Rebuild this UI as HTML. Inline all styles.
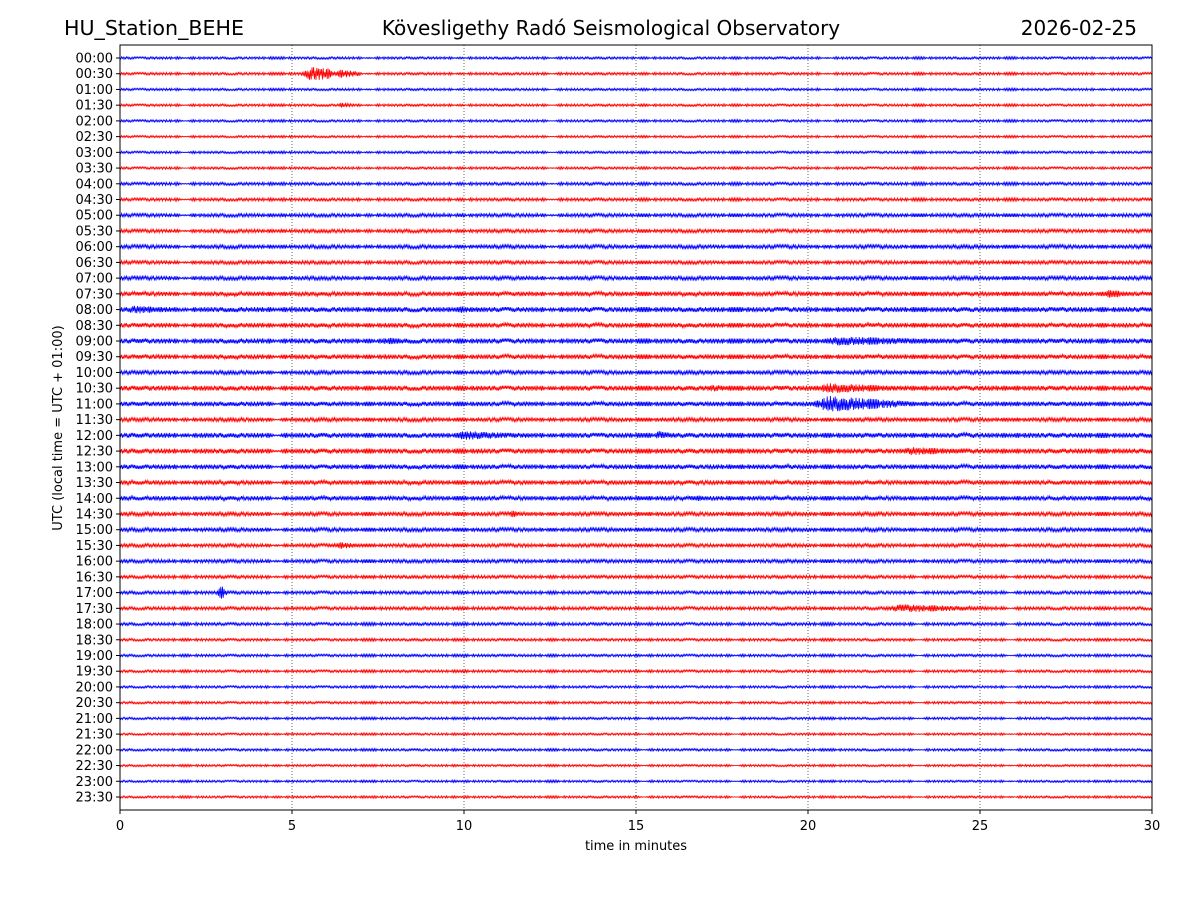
<!DOCTYPE html>
<html><head><meta charset="utf-8"><style>
body{margin:0;background:#fff;width:1200px;height:900px;overflow:hidden}
svg{font-family:"DejaVu Sans","Liberation Sans",sans-serif}
</style></head><body>
<svg id="chart" width="1200" height="900" xmlns="http://www.w3.org/2000/svg">
<text x="64" y="35" font-size="20.6">HU_Station_BEHE</text>
<text x="611" y="35" font-size="20" text-anchor="middle">Kövesligethy Radó Seismological Observatory</text>
<text x="1137" y="35" font-size="20" text-anchor="end">2026-02-25</text>
<g id="grid"></g><g id="traces"></g><g id="axes"></g>
<text x="636" y="850" font-size="13" text-anchor="middle">time in minutes</text>
<text transform="translate(62,428) rotate(-90)" font-size="13" text-anchor="middle">UTC (local time = UTC + 01:00)</text>
</svg>
<script>
const rowLabels=["00:00","00:30","01:00","01:30","02:00","02:30","03:00","03:30","04:00","04:30","05:00","05:30","06:00","06:30","07:00","07:30","08:00","08:30","09:00","09:30","10:00","10:30","11:00","11:30","12:00","12:30","13:00","13:30","14:00","14:30","15:00","15:30","16:00","16:30","17:00","17:30","18:00","18:30","19:00","19:30","20:00","20:30","21:00","21:30","22:00","22:30","23:00","23:30"];
const xTicks=[0,5,10,15,20,25,30];
const baseAmp=[1.2,1.3,1.2,1.2,1.2,1.1,1.2,1.2,1.5,1.5,1.8,1.8,2,1.8,2,2.2,2.5,2.3,2.5,2.3,2,2.5,2.3,2,2.5,2.5,2.3,2.2,2.2,2,2,1.8,1.8,1.6,1.6,1.6,1.5,1.3,1.3,1.3,1.2,1.2,1.2,1.1,1.2,1.1,1.1,1.1];
const evRow=[1,3,15,16,16,18,18,21,21,22,24,24,25,28,29,31,34,35];
const evStart=[5.2,6.3,28.6,0,9.5,7.5,20,17,20,20,9.5,15.5,22.5,16.5,11.3,6,2.8,22];
const evEnd=[7,6.9,29.4,2,10.5,8.6,24.5,18,23,23,12,16.2,25,17.2,11.7,7.1,3.1,25.5];
const evAmp=[7,2.5,4.5,4,4,3.5,4.5,3.5,5,8,4.5,4.5,4,3.5,4,4,9,4];
const X0=120,X1=1152,Y0=45,Y1=810,R0=58,R1=797;
const xs=m=>X0+(X1-X0)*m/30;
const ys=r=>R0+(R1-R0)*r/(rowLabels.length-1);
const NS="http://www.w3.org/2000/svg";
function mk(t,a,p){const e=document.createElementNS(NS,t);for(const k in a)e.setAttribute(k,a[k]);p.appendChild(e);return e;}
const grid=document.getElementById('grid'),tr=document.getElementById('traces'),ax=document.getElementById('axes');
xTicks.forEach(t=>{
 if(t>0&&t<30){const l=mk('line',{x1:xs(t),x2:xs(t),y1:Y0,y2:Y1,stroke:'#000','stroke-width':0.6,'stroke-dasharray':'1,2'},grid);
 
 }
 mk('line',{x1:xs(t),x2:xs(t),y1:Y1,y2:Y1+4,stroke:'#000'},ax);
 const tx=mk('text',{x:xs(t),y:Y1+20,'font-size':13,'text-anchor':'middle'},ax);tx.textContent=t;
 
 
});
rowLabels.forEach((lab,r)=>{
 const y=ys(r);
 mk('line',{x1:X0-4,x2:X0,y1:y,y2:y,stroke:'#000'},ax);
 const tx=mk('text',{x:X0-7,y:y+4.5,'font-size':13,'text-anchor':'end'},ax);tx.textContent=lab;
 
 
 let pts=[];
 for(let i=0,px=X0;px<=X1;i++,px+=0.8){
  const m=(px-X0)/(X1-X0)*30;
  let a=baseAmp[r]*1.0*(0.2+0.8*Math.abs(Math.sin(i*i*0.0137+i*0.91+r*3.1)));
  for(let k=0;k<evRow.length;k++){if(evRow[k]===r&&m>=evStart[k]&&m<=evEnd[k]){const f=(m-evStart[k])/(evEnd[k]-evStart[k]);a=Math.max(a,evAmp[k]*(f<0.2?f/0.2:1-(f-0.2)/0.8*0.7)*(0.3+0.7*Math.abs(Math.sin(i*i*0.021+i*1.3))));}}
  pts.push(px.toFixed(1)+','+(y+(i%2?a:-a)).toFixed(1));
 }
 const pl=mk('polyline',{points:pts.join(' '),fill:'none',stroke:r%2?'#ff0000':'#0000ff','stroke-width':0.8},tr);
 
 
});
const fr=mk('rect',{x:X0,y:Y0,width:X1-X0,height:Y1-Y0,fill:'none',stroke:'#000','stroke-width':1},ax);


</script>
</body></html>
